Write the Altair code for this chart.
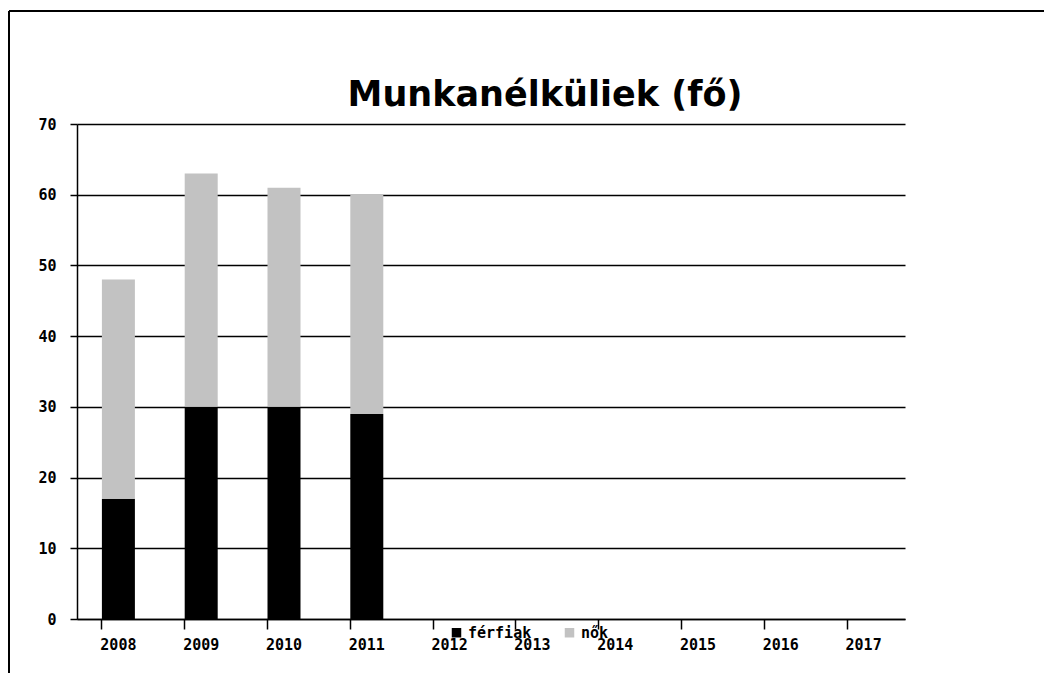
import altair as alt
import pandas as pd

years = ["2008", "2009", "2010", "2011", "2012", "2013", "2014", "2015", "2016", "2017"]
ferfiak = [17, 30, 30, 29, None, None, None, None, None, None]
nok = [31, 33, 31, 31, None, None, None, None, None, None]
series = ["férfiak", "nők"]
colors = ["#000000", "#c2c2c2"]
title_text = "Munkanélküliek (fő)"

rows = []
for i, y in enumerate(years):
    for s, vals in zip(series, [ferfiak, nok]):
        rows.append({"év": y, "nem": s, "fő": vals[i], "ord": series.index(s)})
df = pd.DataFrame(rows)

W, H = 828, 495

bars = alt.Chart(df).mark_bar(size=33).encode(
    x=alt.X("év:N", sort=years, scale=alt.Scale(domain=years, paddingInner=0.6, paddingOuter=0.3),
            axis=alt.Axis(title=None, labelAngle=0, bandPosition=0, tickSize=10, tickColor="black",
                          tickWidth=1.5, domainColor="black", domainWidth=1.5, labelPadding=8,
                          labelFont="DejaVu Sans Mono", labelFontWeight="bold", labelFontSize=15,
                          labelColor="black", grid=False)),
    y=alt.Y("fő:Q", stack="zero", scale=alt.Scale(domain=[0, 70], nice=False),
            axis=alt.Axis(title=None, values=list(range(0, 71, 10)), tickSize=7, tickColor="black",
                          tickWidth=1.5, domainColor="black", domainWidth=1.5, labelPadding=14,
                          labelFont="DejaVu Sans Mono", labelFontWeight="bold", labelFontSize=15,
                          labelColor="black", gridColor="black", gridWidth=1.5)),
    color=alt.Color("nem:N", scale=alt.Scale(domain=series, range=colors),
                    legend=alt.Legend(title=None, orient="none", direction="horizontal",
                                      legendX=372, legendY=H + 6, symbolType="square",
                                      symbolSize=90, symbolStrokeWidth=0, columnPadding=30,
                                      labelFont="DejaVu Sans Mono", labelFontWeight="bold",
                                      labelFontSize=15, labelColor="black")),
    order=alt.Order("ord:Q"),
)

one = pd.DataFrame({"t": [title_text]})
title = alt.Chart(one).mark_text(font="DejaVu Sans", fontWeight="bold", fontSize=35,
                                 color="black", align="center", baseline="middle").encode(
    text="t:N", x=alt.value(468), y=alt.value(-29))

frame_top = alt.Chart(one).mark_rule(color="black", strokeWidth=2).encode(
    x=alt.value(-68), x2=alt.value(1000), y=alt.value(-113))
frame_left = alt.Chart(one).mark_rule(color="black", strokeWidth=2).encode(
    x=alt.value(-68), y=alt.value(-113), y2=alt.value(560))

chart = alt.layer(bars, title, frame_top, frame_left).properties(
    width=W, height=H,
    autosize=alt.AutoSizeParams(type="none"),
    padding={"left": 69, "top": 116, "right": 139, "bottom": 54},
).configure_view(stroke=None)

chart.save("out.html", embed_options={"renderer": "svg", "actions": False})
